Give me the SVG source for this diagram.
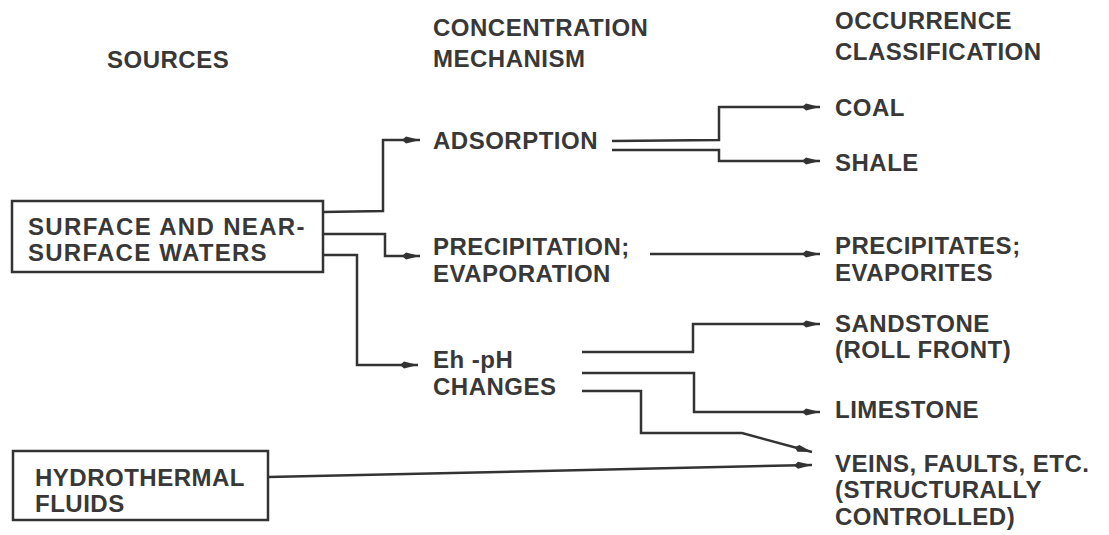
<svg xmlns="http://www.w3.org/2000/svg" width="1109" height="535" viewBox="0 0 1109 535">
<style>
text{font-family:"Liberation Sans",Arial,Helvetica,sans-serif;font-weight:bold;font-size:24px;fill:#383838;letter-spacing:0.5px}
.box{fill:#fff;stroke:#333;stroke-width:2.5}
.c{fill:none;stroke:#333;stroke-width:2.5;stroke-linejoin:miter}
</style>
<defs>
<marker id="ah" markerUnits="userSpaceOnUse" markerWidth="20" markerHeight="10" refX="18" refY="5" orient="auto">
<path d="M0,5 L4,1.5 L18,5 L4,8.5 Z" fill="#333"/>
</marker>
</defs>
<rect width="1109" height="535" fill="#fff"/>
<g id="headers">
<text x="107" y="68">SOURCES</text>
<text x="433" y="36">CONCENTRATION</text>
<text x="433" y="67">MECHANISM</text>
<text x="835" y="29">OCCURRENCE</text>
<text x="835" y="60">CLASSIFICATION</text>
</g>
<g id="connectors">
<polyline class="c" points="323,212 383,211 383,140 420,140" marker-end="url(#ah)"/>
<polyline class="c" points="323,234 385,234 385,256 420,256" marker-end="url(#ah)"/>
<polyline class="c" points="323,255 357,255 357,365 418,365" marker-end="url(#ah)"/>
<polyline class="c" points="612,141 719,140 719,107 820,107" marker-end="url(#ah)"/>
<polyline class="c" points="612,150 719,150 719,161 820,161" marker-end="url(#ah)"/>
<polyline class="c" points="650,254 820,254" marker-end="url(#ah)"/>
<polyline class="c" points="582,352 693,352 693,324 820,324" marker-end="url(#ah)"/>
<polyline class="c" points="582,373 694,373 694,412 820,412" marker-end="url(#ah)"/>
<polyline class="c" points="582,391 641,391 641,433 742,433 812,452" marker-end="url(#ah)"/>
<polyline class="c" points="268,477 812,465" marker-end="url(#ah)"/>
</g>
<g id="surface-waters">
<rect class="box" x="12" y="201" width="311" height="71"/>
<text x="28" y="235" textLength="277" lengthAdjust="spacing">SURFACE AND NEAR-</text>
<text x="28" y="261" textLength="239" lengthAdjust="spacing">SURFACE WATERS</text>
</g>
<g id="hydrothermal">
<rect class="box" x="13" y="451" width="255" height="69"/>
<text x="35" y="486">HYDROTHERMAL</text>
<text x="35" y="512">FLUIDS</text>
</g>
<g id="adsorption"><text x="433" y="149">ADSORPTION</text></g>
<g id="precipitation">
<text x="433" y="255">PRECIPITATION;</text>
<text x="433" y="282">EVAPORATION</text>
</g>
<g id="ehph">
<text x="433" y="368">Eh -pH</text>
<text x="433" y="395">CHANGES</text>
</g>
<g id="coal"><text x="835" y="116">COAL</text></g>
<g id="shale"><text x="835" y="171">SHALE</text></g>
<g id="precipitates">
<text x="835" y="254">PRECIPITATES;</text>
<text x="835" y="281">EVAPORITES</text>
</g>
<g id="sandstone">
<text x="835" y="332">SANDSTONE</text>
<text x="835" y="358">(ROLL FRONT)</text>
</g>
<g id="limestone"><text x="835" y="418">LIMESTONE</text></g>
<g id="veins">
<text x="835" y="472">VEINS, FAULTS, ETC.</text>
<text x="835" y="498">(STRUCTURALLY</text>
<text x="835" y="525">CONTROLLED)</text>
</g>
</svg>
